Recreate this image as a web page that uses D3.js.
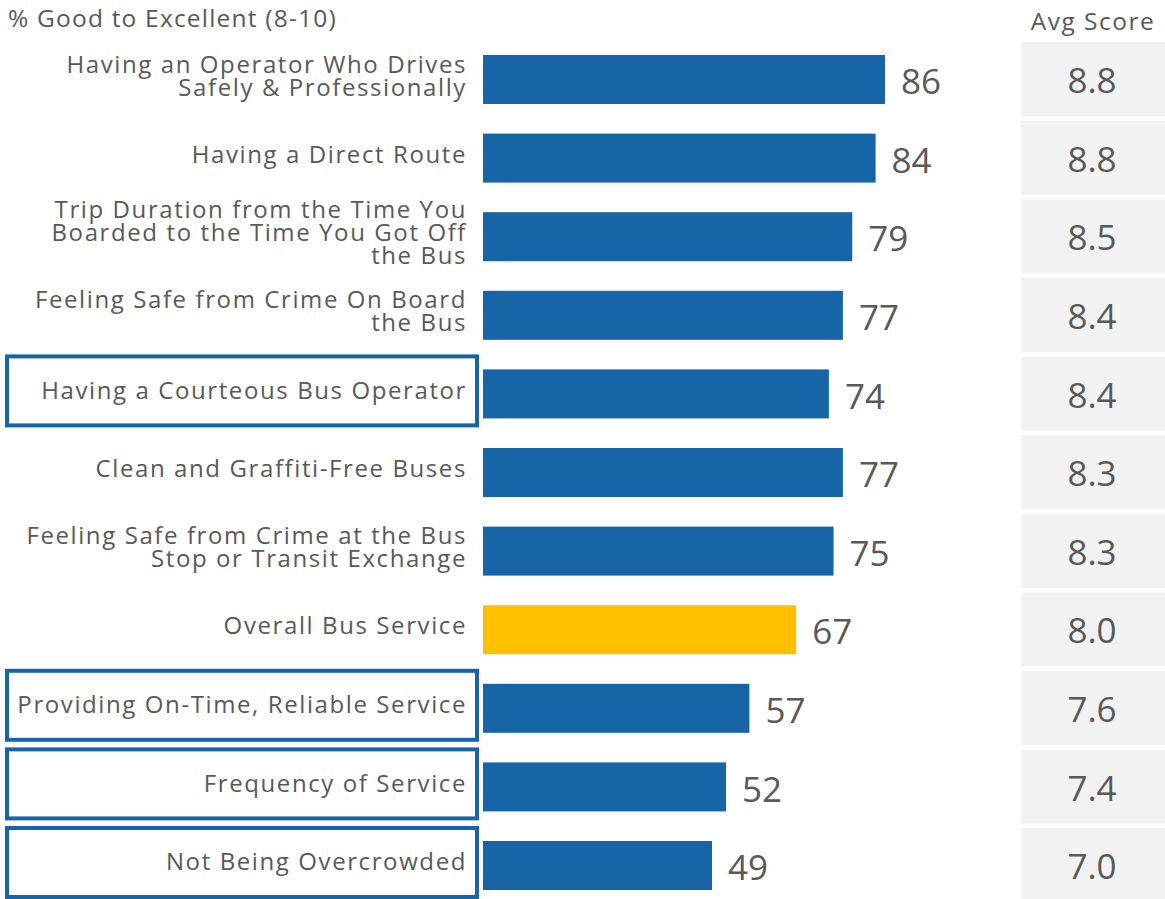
<!DOCTYPE html>
<html>
<head>
<meta charset="utf-8">
<script src="https://cdn.jsdelivr.net/npm/d3@7"></script>
<style>
  html, body { margin: 0; padding: 0; background: #ffffff; }
  svg { display: block; }
  text { font-family: "Open Sans", "DejaVu Sans", sans-serif; fill: #595959; }
</style>
</head>
<body>
<svg id="chart" width="1165" height="899"></svg>
<script>
// Attribute labels (line breaks as laid out)
const categories = [
  "Having an Operator Who Drives\nSafely & Professionally",
  "Having a Direct Route",
  "Trip Duration from the Time You\nBoarded to the Time You Got Off\nthe Bus",
  "Feeling Safe from Crime On Board\nthe Bus",
  "Having a Courteous Bus Operator",
  "Clean and Graffiti-Free Buses",
  "Feeling Safe from Crime at the Bus\nStop or Transit Exchange",
  "Overall Bus Service",
  "Providing On-Time, Reliable Service",
  "Frequency of Service",
  "Not Being Overcrowded"
];
// % rating Good to Excellent (8-10)
const goodToExcellent = [86, 84, 79, 77, 74, 77, 75, 67, 57, 52, 49];
// Average score (0-10)
const avgScores = [8.8, 8.8, 8.5, 8.4, 8.4, 8.3, 8.3, 8.0, 7.6, 7.4, 7.0];
// Attributes flagged with an outline
const flagged = [
  "Having a Courteous Bus Operator",
  "Providing On-Time, Reliable Service",
  "Frequency of Service",
  "Not Being Overcrowded"
];
const overallCategory = "Overall Bus Service";
const titleText = "% Good to Excellent (8-10)";
const avgTitle = "Avg Score";

const BLUE = "#1764a7";
const GOLD = "#ffc000";
const GREY_BOX = "#f2f2f2";

const svg = d3.select("#chart");

const y = d3.scaleBand()
  .domain(categories)
  .range([40.2, 904.8])
  .paddingInner(0)
  .paddingOuter(0);

const x = d3.scaleLinear().domain([0, 100]).range([483, 950.4]);

const barH = 49;
const rows = categories.map((c, i) => ({
  cat: c, value: goodToExcellent[i], avg: avgScores[i],
  center: y(c) + y.bandwidth() / 2
}));

// Title texts
svg.append("text")
  .attr("x", 8).attr("y", 27)
  .style("font-size", "24.5px")
  .style("letter-spacing", "1.2px")
  .text(titleText);

svg.append("text")
  .attr("x", 1093).attr("y", 30)
  .attr("text-anchor", "middle")
  .style("font-size", "24.5px")
  .style("letter-spacing", "1.5px")
  .text(avgTitle);

// Outline boxes around flagged attributes
svg.append("g").selectAll("rect")
  .data(rows.filter(r => flagged.includes(r.cat.replace(/\n/g, " "))))
  .join("rect")
  .attr("x", 7)
  .attr("width", 470)
  .attr("y", r => r.center - 3 - 34.5)
  .attr("height", 69)
  .attr("fill", "none")
  .attr("stroke", BLUE)
  .attr("stroke-width", 4);

// Category labels (right-aligned, multi-line)
const lineH = 23;
const labels = svg.append("g").selectAll("text")
  .data(rows)
  .join("text")
  .attr("text-anchor", "end")
  .style("font-size", "24px")
  .style("letter-spacing", "1.6px");

labels.each(function (r) {
  const lines = r.cat.split("\n");
  const first = r.center - 4 - (lines.length - 1) * lineH / 2;
  d3.select(this).selectAll("tspan")
    .data(lines)
    .join("tspan")
    .attr("x", 467)
    .attr("y", (d, k) => first + k * lineH)
    .attr("dy", "0.36em")
    .text(d => d);
});

// Bars
svg.append("g").selectAll("rect")
  .data(rows)
  .join("rect")
  .attr("x", x(0))
  .attr("y", r => r.center - barH / 2)
  .attr("width", r => x(r.value) - x(0))
  .attr("height", barH)
  .attr("fill", r => r.cat === overallCategory ? GOLD : BLUE);

// Value labels
svg.append("g").selectAll("text")
  .data(rows)
  .join("text")
  .attr("x", r => x(r.value) + 16)
  .attr("y", r => r.center + 2)
  .attr("dy", "0.36em")
  .style("font-size", "35px")
  .text(r => d3.format("d")(r.value));

// Average score column
const avgG = svg.append("g");
avgG.selectAll("rect")
  .data(rows)
  .join("rect")
  .attr("x", 1021)
  .attr("width", 144)
  .attr("y", r => y(r.cat) + 2)
  .attr("height", y.bandwidth() - 4.5)
  .attr("fill", GREY_BOX);

avgG.selectAll("text")
  .data(rows)
  .join("text")
  .attr("x", 1092)
  .attr("y", r => r.center + 1)
  .attr("dy", "0.36em")
  .attr("text-anchor", "middle")
  .style("font-size", "35px")
  .text(r => d3.format(".1f")(r.avg));
</script>
</body>
</html>
